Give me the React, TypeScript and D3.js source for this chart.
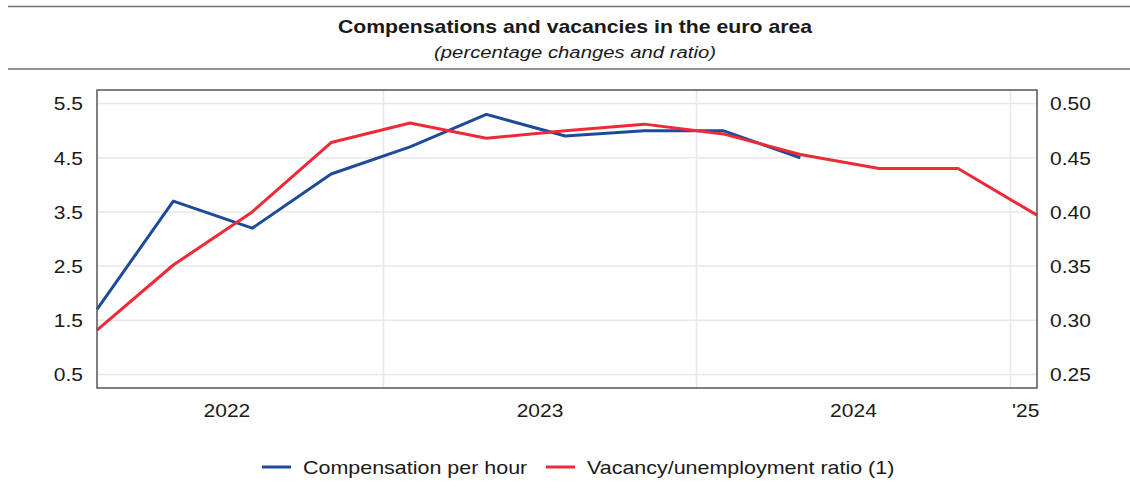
import React from "react";
import * as d3 from "d3";

const quarters = ["2022-02-01","2022-05-01","2022-08-01","2022-11-01","2023-02-01","2023-05-01","2023-08-01","2023-11-01","2024-02-01","2024-05-01","2024-08-01","2024-11-01","2025-02-01"];
const compensation = [1.7, 3.7, 3.2, 4.2, 4.7, 5.3, 4.9, 5.0, 5.0, 4.5];
const vacancyRatio = [0.291, 0.351, 0.400, 0.464, 0.482, 0.468, 0.475, 0.481, 0.472, 0.453, 0.440, 0.440, 0.397];
const leftTicks = [0.5, 1.5, 2.5, 3.5, 4.5, 5.5];
const rightTicks = [0.25, 0.30, 0.35, 0.40, 0.45, 0.50];
const yearLabels = [
  { year: 2022, label: "2022" },
  { year: 2023, label: "2023" },
  { year: 2024, label: "2024" },
  { year: 2025, label: "'25" },
];
const seriesNames = ["Compensation per hour", "Vacancy/unemployment ratio (1)"];

const BLUE = "#1d4b97";
const RED = "#ee2a37";
const FONT = "'Liberation Sans', Arial, Helvetica, sans-serif";
const SX = 1.18;

function T({ x, y, children, size = 17.8, anchor = "start", weight = "normal", style = "normal" }: any) {
  return (
    <text
      transform={`translate(${x},${y}) scale(${SX},1)`}
      fontSize={size}
      textAnchor={anchor}
      fontWeight={weight}
      fontStyle={style}
      fontFamily={FONT}
      fill="#1a1a1a"
    >
      {children}
    </text>
  );
}

export default function App() {
  const W = 1130, H = 495;
  const left = 97, right = 1037, top = 90, bottom = 388;
  const parse = d3.timeParse("%Y-%m-%d");
  const dates = quarters.map((q) => parse(q) as Date);
  const x = d3.scaleTime().domain([dates[0], dates[dates.length - 1]]).range([left, right]);
  const yL = d3.scaleLinear().domain([0.25, 5.75]).range([bottom, top]);
  const yR = d3.scaleLinear().domain([0.2375, 0.5125]).range([bottom, top]);

  const lineL = d3.line<number>().x((_, i) => x(dates[i])).y((d) => yL(d));
  const lineR = d3.line<number>().x((_, i) => x(dates[i])).y((d) => yR(d));

  const [d0, d1] = x.domain();
  const yearBounds = [2023, 2024, 2025].map((y) => new Date(y, 0, 1));

  return (
    <svg width={W} height={H} style={{ position: "absolute", left: 0, top: 0, background: "#fff" }}>
      <line x1={8} x2={W} y1={6.5} y2={6.5} stroke="#6f6f6f" strokeWidth={1.5} />
      <line x1={8} x2={W} y1={69} y2={69} stroke="#6f6f6f" strokeWidth={1.5} />
      <T x={575} y={32.5} size={18} anchor="middle" weight="bold">Compensations and vacancies in the euro area</T>
      <T x={575} y={58} size={17.2} anchor="middle" style="italic">(percentage changes and ratio)</T>

      {leftTicks.map((t) => (
        <line key={"g" + t} x1={left} x2={right} y1={yL(t)} y2={yL(t)} stroke="#e8e8e8" strokeWidth={1.5} />
      ))}
      {yearBounds.map((d, i) => (
        <line key={"v" + i} x1={x(d)} x2={x(d)} y1={top} y2={bottom} stroke="#e8e8e8" strokeWidth={1.5} />
      ))}

      <path d={lineL(compensation) || ""} fill="none" stroke={BLUE} strokeWidth={3} strokeLinejoin="round" />
      <path d={lineR(vacancyRatio) || ""} fill="none" stroke={RED} strokeWidth={3} strokeLinejoin="round" />

      <rect x={left} y={top} width={right - left} height={bottom - top} fill="none" stroke="#555" strokeWidth={1.5} />

      {leftTicks.map((t) => (
        <T key={"l" + t} x={83} y={yL(t) + 6.8} anchor="end">{d3.format(".1f")(t)}</T>
      ))}
      {rightTicks.map((t) => (
        <T key={"r" + t} x={1050} y={yR(t) + 6.8}>{d3.format(".2f")(t)}</T>
      ))}
      {yearLabels.map(({ year, label }) => {
        const a = new Date(year, 0, 1), b = new Date(year + 1, 0, 1);
        let cx: number;
        if (a >= d0 && b <= d1) cx = (x(a) + x(b)) / 2;
        else if (year === 2022) cx = (x(a) + x(b)) / 2;
        else cx = (Math.max(x(a), left) + Math.min(x(b), right)) / 2 + 2;
        return <T key={label} x={cx} y={417} anchor="middle">{label}</T>;
      })}

      <line x1={262} x2={291} y1={467} y2={467} stroke={BLUE} strokeWidth={3} />
      <T x={303} y={473.5} size={18.2}>{seriesNames[0]}</T>
      <line x1={546} x2={575} y1={467} y2={467} stroke={RED} strokeWidth={3} />
      <T x={587} y={473.5} size={18.2}>{seriesNames[1]}</T>
    </svg>
  );
}
